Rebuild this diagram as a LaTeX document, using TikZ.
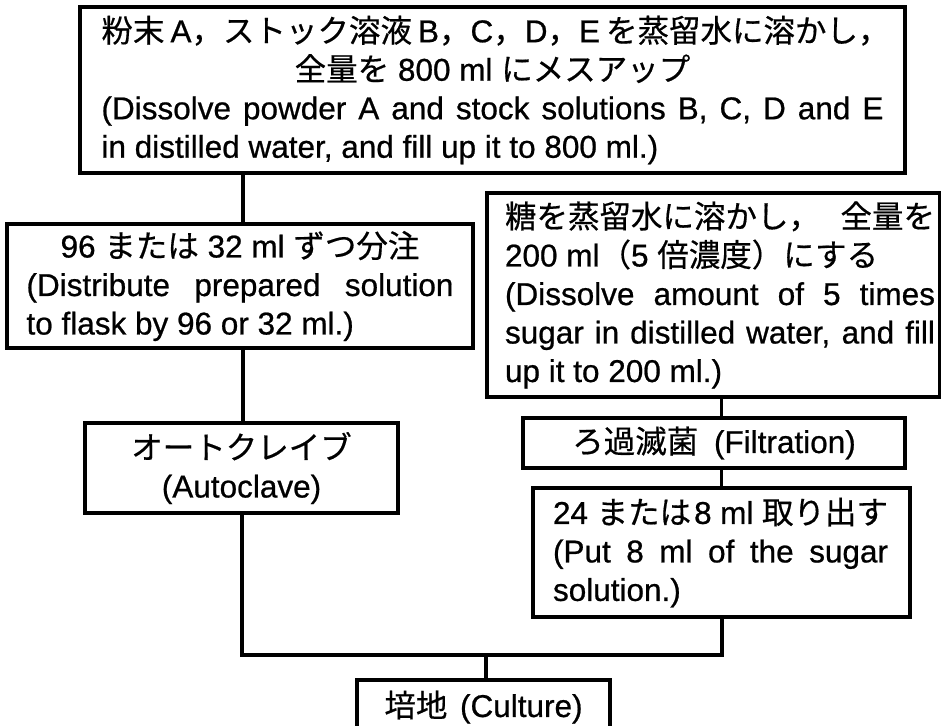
\documentclass[tikz,border=0pt]{standalone}
\usepackage{fontspec}
\setmainfont{Liberation Sans}[FakeBold=0.7]
\newfontfamily\jp{Noto Sans CJK JP}[FakeBold=0.5]
\newcommand\J[1]{{\jp #1}}
\newcommand\LJ[1]{\hbox to \linewidth{#1}}
\newcommand\LL[1]{\hbox to \linewidth{#1\hfil}}
\newcommand\LC[1]{\hbox to \linewidth{\hfil#1\hfil}}
\newcommand\fs{\fontsize{31.5pt}{38.5pt}\selectfont}
\newcommand\tbox[2]{\begin{minipage}{#1}\fs #2\end{minipage}}
\tikzset{
  box/.style={draw, line width=3.4pt, inner sep=0pt, font=\fs},
  conn/.style={line width=3.4pt},
}
\begin{document}
\begin{tikzpicture}[x=1pt,y=-1pt]
\useasboundingbox (0,0) rectangle (941,725);
\node[box, minimum width=825pt, minimum height=166pt] (top) at (492.5,90) {\tbox{782pt}{%
\LL{\J{粉末}\kern6pt A\J{，ストック溶液}\kern6pt B\J{，}C\J{，}D\J{，}E\kern6pt\J{を蒸留水に溶かし，}}%
\LC{\J{全量を} 800 ml \J{にメスアップ}}%
\LJ{(Dissolve powder A and stock solutions B, C, D and E}%
\LL{in distilled water, and fill up it to 800 ml.)}}};
\node[box, minimum width=466pt, minimum height=124pt] (dist) at (240,286) {\tbox{427pt}{%
\LC{96 \J{または} 32 ml \J{ずつ分注}}%
\LJ{(Distribute prepared solution}%
\LL{to flask by 96 or 32 ml.)}}};
\node[box, minimum width=313pt, minimum height=90pt] (auto) at (241.5,468) {\tbox{290pt}{%
\LC{\J{オートクレイブ}}%
\LC{(Autoclave)}}};
\node[box, minimum width=453pt, minimum height=204pt] (sugar) at (713.5,295) {\hspace*{13pt}\tbox{430pt}{%
\LJ{\J{糖を蒸留水に溶かし，}\hfil\J{全量を}}%
\LL{200 ml\J{（}5 \J{倍濃度）にする}}%
\LJ{(Dissolve amount of 5 times}%
\LJ{sugar in distilled water, and fill}%
\LL{up it to 200 ml.)}}};
\node[box, minimum width=382pt, minimum height=50pt] (filt) at (714,443) {\J{ろ過滅菌}\hspace{0.5em}(Filtration)};
\node[box, minimum width=377pt, minimum height=129pt] (put) at (721.5,552.5) {\hspace*{-2pt}\tbox{335pt}{%
\LL{24 \J{または}\kern3pt 8 ml \J{取り出す}}%
\LJ{(Put 8 ml of the sugar}%
\LL{solution.)}}};
\node[box, minimum width=253pt, minimum height=54pt] (cult) at (483.5,707) {\J{培地}\hspace{0.4em}(Culture)};
\coordinate (jn) at (486,655);
\draw[conn] ([xshift=3pt]dist.north) -- ([xshift=3pt]dist.north |- top.south);
\draw[conn] ([xshift=1.5pt]auto.north) -- ([xshift=1.5pt]auto.north |- dist.south);
\draw[conn] ([xshift=0.5pt]auto.south) |- (jn) -| ([xshift=0.5pt]put.south);
\draw[conn] (jn) -- (jn |- cult.north);
\draw[conn] (sugar.south -| put.north) -- (filt.north -| put.north);
\draw[conn] (filt.south -| put.north) -- (put.north);
\end{tikzpicture}
\end{document}
